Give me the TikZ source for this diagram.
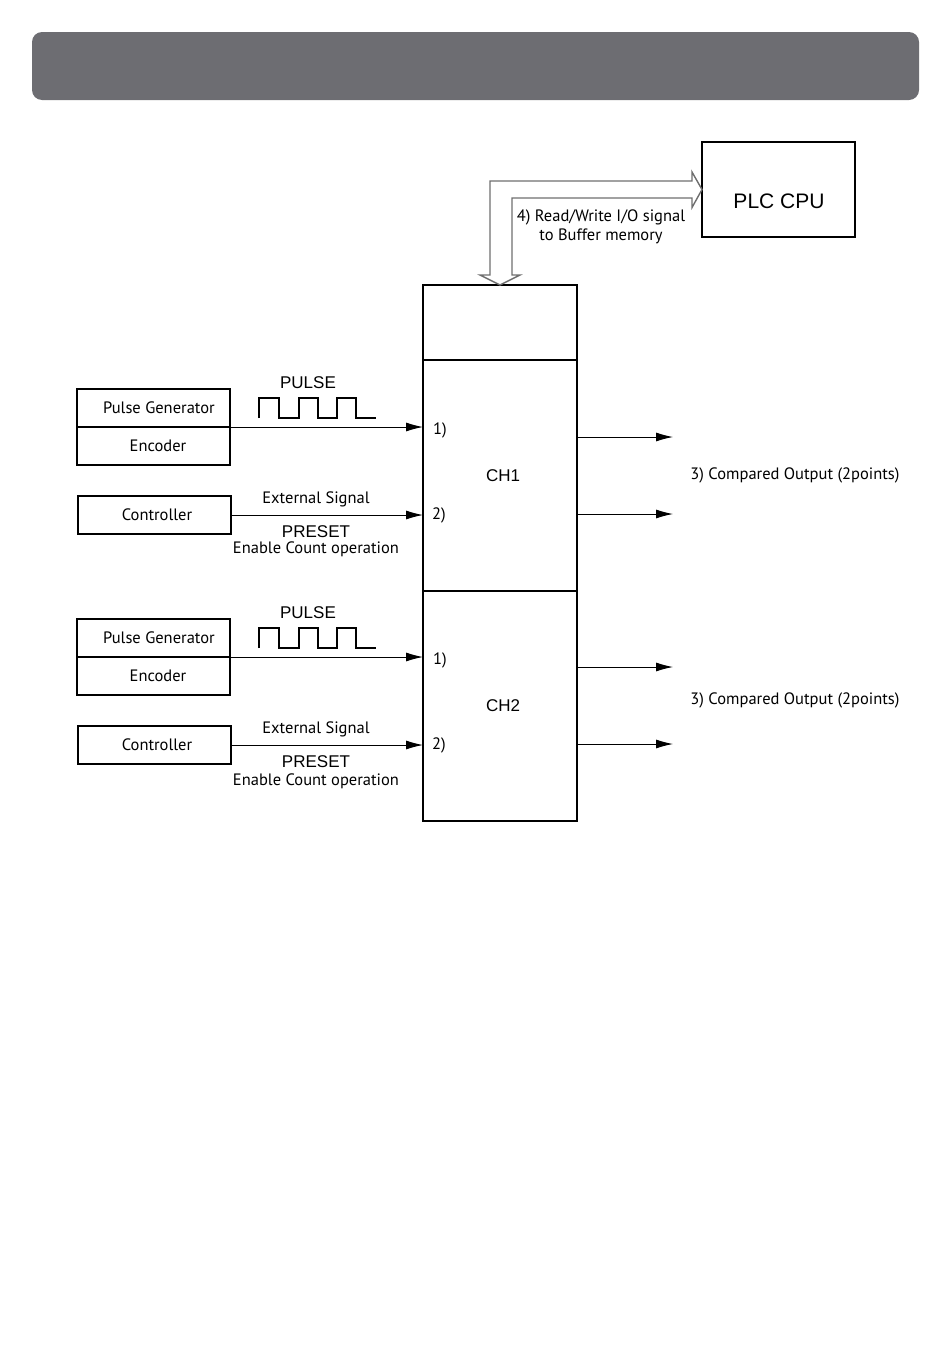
\documentclass[tikz,border=0pt]{standalone}
\usepackage{fontspec}
\setmainfont{Liberation Sans}
\newfontfamily\labelfont{PT Sans}
\usepackage{xcolor}
\usetikzlibrary{positioning, arrows.meta, calc}
\definecolor{headgray}{RGB}{109,109,114}
\definecolor{busgray}{RGB}{110,110,110}

\begin{document}
\begin{tikzpicture}[x=1pt, y=-1pt, node distance={0pt}]
	\tikzstyle{box} = [draw, rectangle, line width=1.1pt, inner sep=0pt, outer sep=0pt, font=\labelfont\fontsize{16.5}{19}\selectfont]
	\tikzstyle{sig} = [-{Latex[length=17pt, width=9pt]}, line width=0.9pt]
	\tikzstyle{lbl} = [inner sep=0pt, font=\labelfont\fontsize{16.5}{19}\selectfont]
	\tikzstyle{big} = [inner sep=0pt, font=\fontsize{17}{20}\selectfont]
	\tikzstyle{wave} = [line width=1.2pt]
	\useasboundingbox (0,0) rectangle (950,1368);
	\fill[headgray, rounded corners=10pt] (32,32) rectangle (919,100);
	% CPU and module
	\node[box, minimum width=153pt, minimum height=95pt] (plc) at (778.5,189.5) {};
	\node[inner sep=0pt, font=\fontsize{21}{24}\selectfont] (plctxt) at (779,201) {PLC CPU};
	\node[box, minimum width=154pt, minimum height=75pt] (top) at (500,322.5) {};
	\node[box, minimum width=154pt, minimum height=231pt, below=of top, font=\fontsize{17}{20}\selectfont] (ch1) {\hspace*{6pt}CH1};
	\node[box, minimum width=154pt, minimum height=230pt, below=of ch1, font=\fontsize{17}{20}\selectfont] (ch2) {\hspace*{6pt}CH2};
	\draw[line width=1.8pt] (top.south west) -- (top.south east);
	\draw[busgray, line width=1.4pt] (top.north) -- ++(-20,-10) -- ++(10,0) |- ($(plc.west)+(-10,-8.5)$) -- ++(0,-9) -- (plc.west) -- ++(-10,18) -- ++(0,-9.5) -| ($(top.north)+(12,-10)$) -- ++(8,0) -- cycle;
	\node[lbl, align=center] (rw) at (601,227) {4) Read/Write I/O signal\\to Buffer memory};
	% channel 1
	\node[box, minimum width=153pt, minimum height=38pt] (pg1) at (153.5,408) {\hspace*{11pt}Pulse Generator};
	\node[box, minimum width=153pt, minimum height=38pt, below=of pg1] (enc1) {\hspace*{9pt}Encoder};
	\node[box, minimum width=153pt, minimum height=38pt] (ctl1) at (154.5,515) {\hspace*{5pt}Controller};
	\node[big] (pulse1) at (308,383) {PULSE};
	\draw[wave] (259,418) -- (259,398) -- (279,398) -- (279,418) -- (299,418) -- (299,398) -- (318,398) -- (318,418) -- (337,418) -- (337,398) -- (356,398) -- (356,418) -- (376,418);
	\node[lbl] (in11) at (440,430) {1)};
	\node[lbl] (in12) at (439,515) {2)};
	\draw[sig] (enc1.north east) -- (enc1.north east -| ch1.west);
	\draw[sig] (ctl1.east) -- (ctl1.east -| ch1.west);
	\node[lbl] (ext1) at (316,499) {External Signal};
	\node[big] (pre1) at (316,532) {PRESET};
	\node[lbl] (ena1) at (316,549) {Enable Count operation};
	\coordinate (o11) at (673,437);
	\coordinate (o12) at (673,514);
	\draw[sig] (o11 -| ch1.east) -- (o11);
	\draw[sig] (o12 -| ch1.east) -- (o12);
	\node[lbl] (cmp1) at (795,475) {3) Compared Output (2points)};
	% channel 2
	\node[box, minimum width=153pt, minimum height=38pt] (pg2) at (153.5,638) {\hspace*{11pt}Pulse Generator};
	\node[box, minimum width=153pt, minimum height=38pt, below=of pg2] (enc2) {\hspace*{9pt}Encoder};
	\node[box, minimum width=153pt, minimum height=38pt] (ctl2) at (154.5,745) {\hspace*{5pt}Controller};
	\node[big] (pulse2) at (308,613) {PULSE};
	\draw[wave] (259,648) -- (259,628) -- (279,628) -- (279,648) -- (299,648) -- (299,628) -- (318,628) -- (318,648) -- (337,648) -- (337,628) -- (356,628) -- (356,648) -- (376,648);
	\node[lbl] (in21) at (440,660) {1)};
	\node[lbl] (in22) at (439,745) {2)};
	\draw[sig] (enc2.north east) -- (enc2.north east -| ch2.west);
	\draw[sig] (ctl2.east) -- (ctl2.east -| ch2.west);
	\node[lbl] (ext2) at (316,729) {External Signal};
	\node[big] (pre2) at (316,762) {PRESET};
	\node[lbl] (ena2) at (316,781) {Enable Count operation};
	\coordinate (o21) at (673,667);
	\coordinate (o22) at (673,744);
	\draw[sig] (o21 -| ch2.east) -- (o21);
	\draw[sig] (o22 -| ch2.east) -- (o22);
	\node[lbl] (cmp2) at (795,700) {3) Compared Output (2points)};
\end{tikzpicture}
\end{document}
